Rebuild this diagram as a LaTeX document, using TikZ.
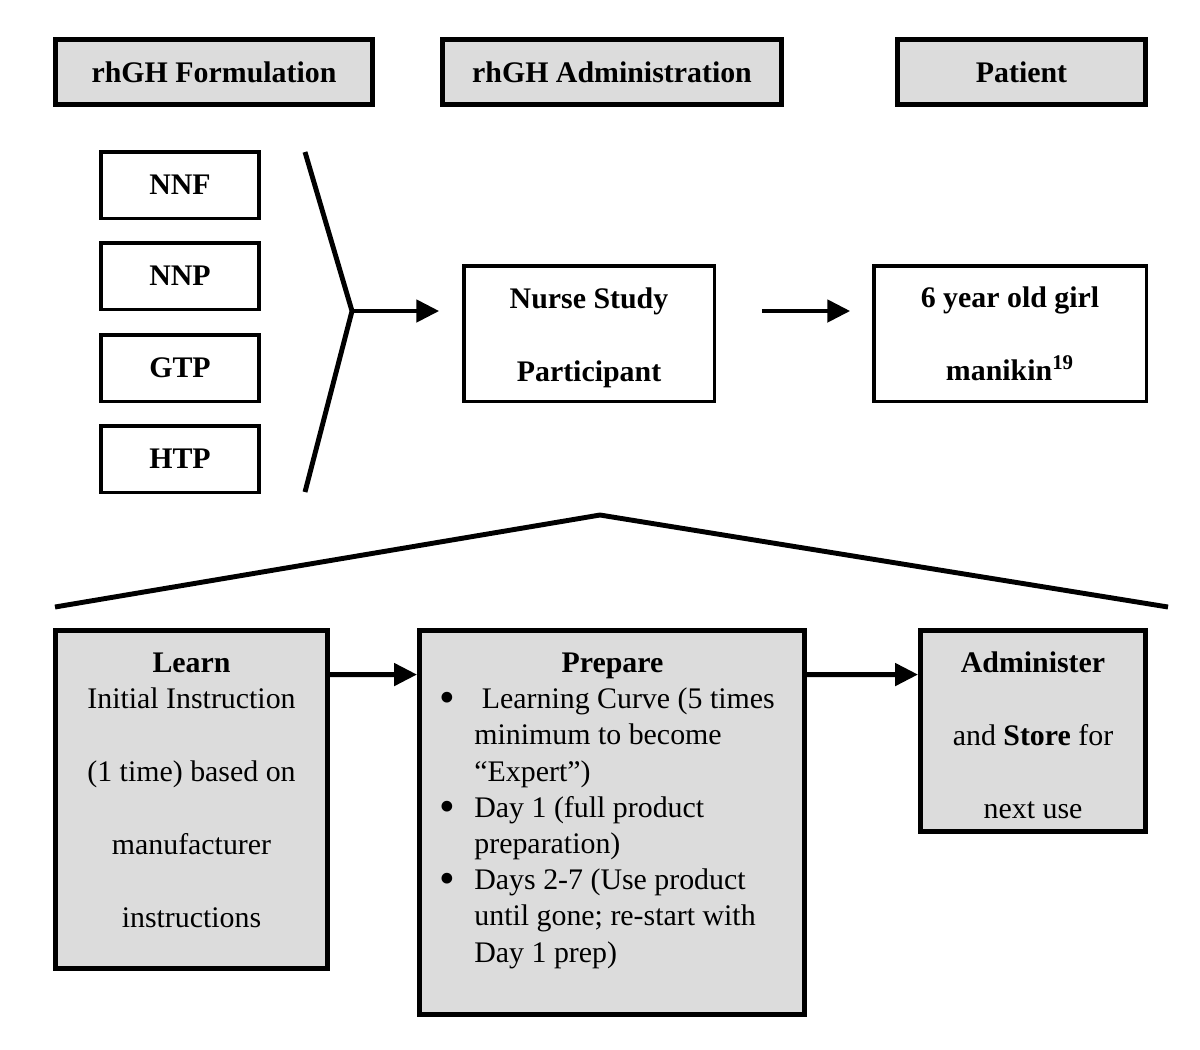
\documentclass[tikz,border=0pt]{standalone}
\usepackage{fontspec}
\setmainfont{Liberation Serif}
\usetikzlibrary{arrows.meta,positioning}
\definecolor{boxgray}{RGB}{220,220,220}
\newcommand{\diafont}{\fontsize{17pt}{20.6pt}\selectfont}
\newcommand{\bul}{\llap{\raisebox{-2.2pt}{\scalebox{1.5}{\textbullet}}\hspace{11pt}}}
\tikzset{
  hdrbox/.style={draw, line width=2.8pt, fill=boxgray, inner sep=0pt,
    minimum height=1.30cm, font=\diafont\bfseries},
  optbox/.style={draw, line width=2pt, inner sep=0pt, minimum width=3.17cm,
    minimum height=1.33cm, font=\diafont\bfseries},
  mainbox/.style={draw, line width=2pt, inner sep=0pt, minimum height=2.71cm,
    align=center, font=\diafont\bfseries},
  stagebox/.style={draw, line width=2.8pt, fill=boxgray, inner sep=0pt},
  txt/.style={inner sep=0pt, font=\diafont},
  thickline/.style={line width=2.8pt},
  arr/.style={line width=2.8pt, -{Triangle[length=0.46cm,width=0.44cm]}}
}
\begin{document}
\begin{tikzpicture}
    \useasboundingbox (0,0) rectangle (24,-20.98);

    % column headers
    \node[hdrbox, minimum width=6.34cm] (formulation) at (4.28,-1.44) {rhGH Formulation};
    \node[hdrbox, minimum width=6.78cm] (administration) at (12.24,-1.44) {rhGH Administration};
    \node[hdrbox, minimum width=4.96cm] (patient) at (20.43,-1.44) {Patient};

    % the four formulations
    \foreach \y/\name in {-3.70/NNF, -5.52/NNP, -7.36/GTP, -9.18/HTP} {
        \node[optbox] (\name) at (3.60,\y) {\name};
    }

    \coordinate (fork) at (7.04,-6.22);
    \draw[thickline] (6.10,-3.04) -- (fork) -- (6.10,-9.84);

    \node[mainbox, minimum width=5.01cm] (nurse) at (11.78,-6.67) {\rule{0pt}{17pt}Nurse Study\\[21pt]Participant};
    \node[mainbox, minimum width=5.45cm] (girl) at (20.20,-6.67) {6 year old girl\\[21pt]manikin\textsuperscript{19}};

    \draw[arr, shorten >=0.455cm] (fork) -- (fork -| nurse.west);
    \draw[arr, shorten <=0.915cm, shorten >=0.435cm] ([yshift=0.45cm]nurse.east) -- ([yshift=0.45cm]girl.west);

    % zoom into the nurse step
    \draw[thickline] (1.10,-12.14) -- (12.00,-10.30) -- (23.36,-12.14);

    \node[stagebox, minimum width=5.44cm, minimum height=6.76cm] (learn) at (3.83,-15.99) {};
    \node[stagebox, minimum width=7.70cm, minimum height=7.68cm] (prepare) at (12.24,-16.45) {};
    \node[stagebox, minimum width=4.50cm, minimum height=4.02cm] (administer) at (20.66,-14.62) {};

    \node[txt, align=center, below=0.49cm of learn.north] (learntxt)
        {\textbf{Learn}\\Initial Instruction\\[21pt](1 time) based on\\[21pt]manufacturer\\[21pt]instructions};
    \node[txt, align=left, below right=0.49cm and 1.14cm of prepare.north west] (preparetxt)
        {\makebox[5.52cm]{\textbf{Prepare}}\\
         \bul\hspace*{4.25pt}Learning Curve (5 times\\
         minimum to become\\
         ``Expert'')\\
         \bul Day 1 (full product\\
         preparation)\\
         \bul Days 2-7 (Use product\\
         until gone; re-start with\\
         Day 1 prep)};
    \node[txt, align=center, below=0.47cm of administer.north] (administertxt)
        {\textbf{Administer}\\[21pt]and \textbf{Store} for\\[21pt]next use};

    \draw[arr] ([yshift=-0.93cm]learn.north east) -- ([yshift=-0.93cm]prepare.north west);
    \draw[arr] ([yshift=-0.93cm]prepare.north east) -- ([yshift=-0.93cm]administer.north west);
\end{tikzpicture}
\end{document}
